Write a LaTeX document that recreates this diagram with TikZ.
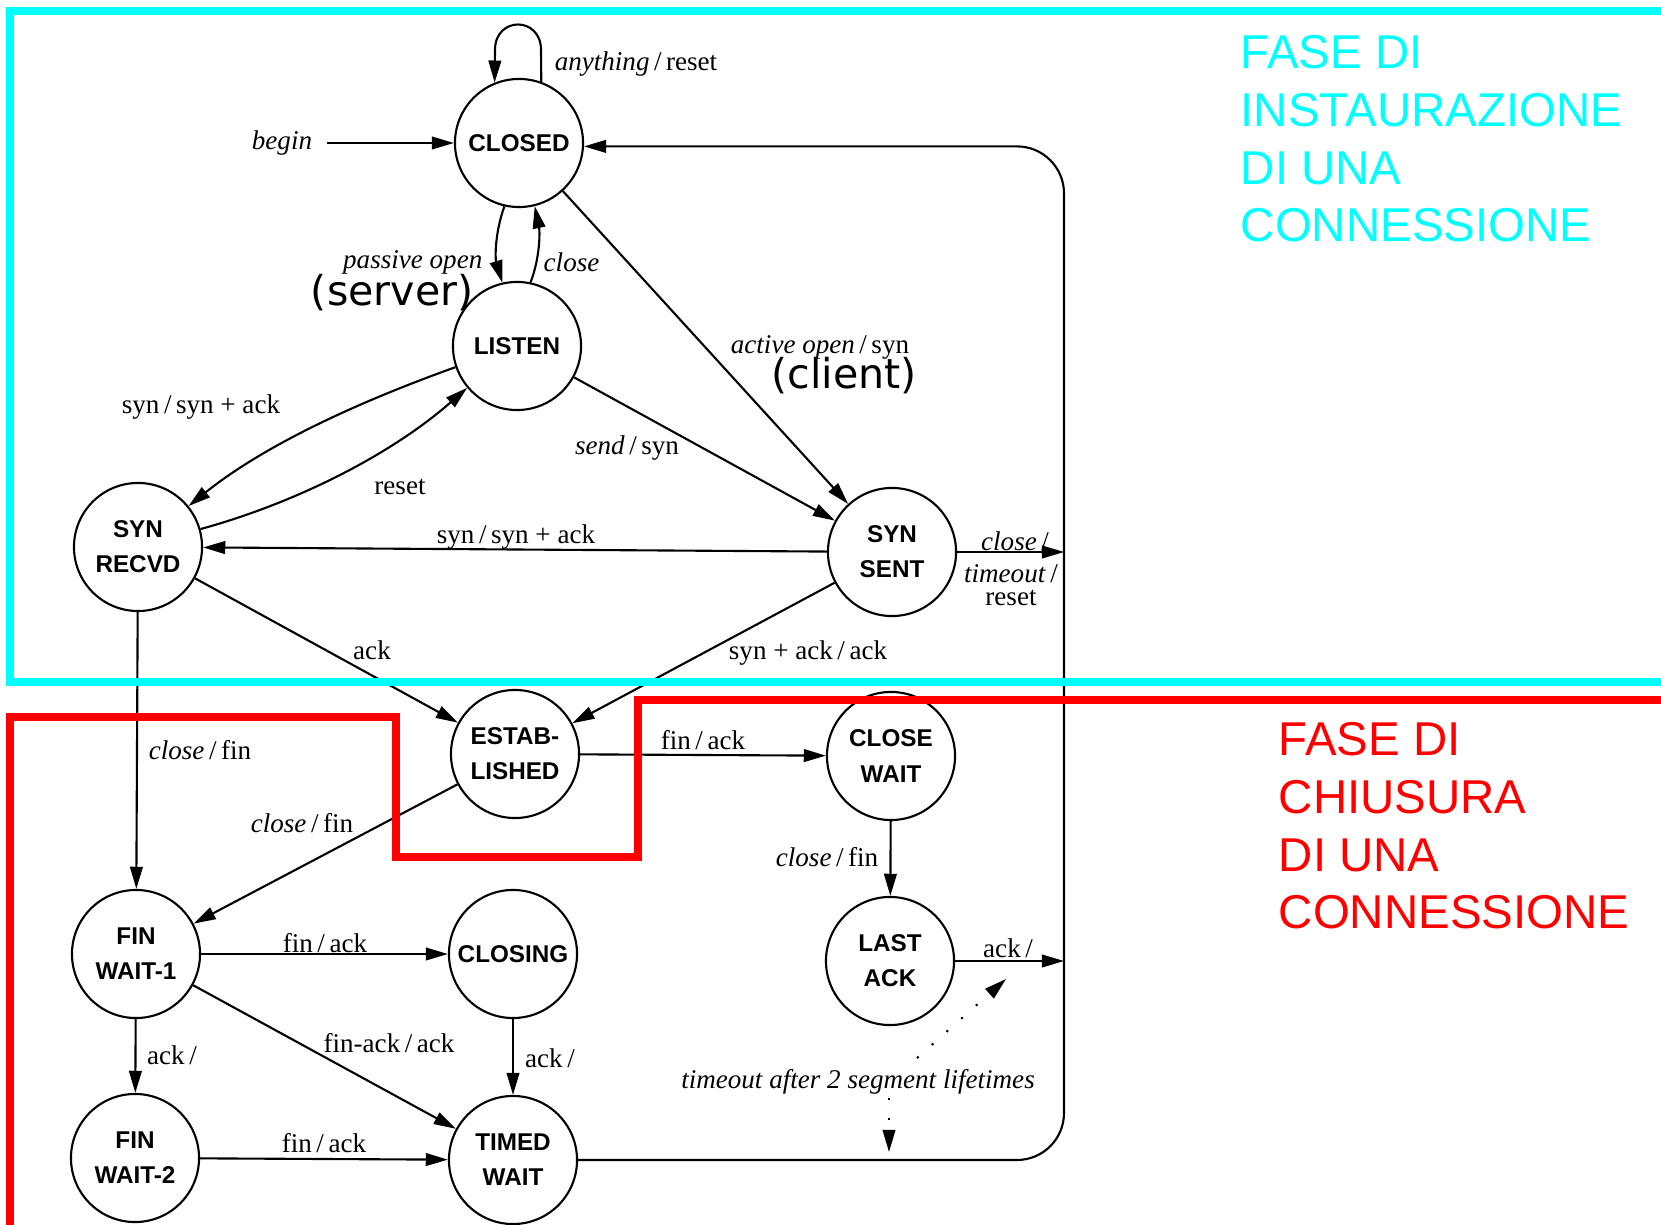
\documentclass[tikz,border=0pt]{standalone}
\usepackage{fontspec}
\setmainfont{Liberation Serif}
\newfontfamily\statefont{Liberation Sans}
\newfontfamily\phasefont{Liberation Sans}
\newfontfamily\rolefont{DejaVu Sans}
\usetikzlibrary{arrows.meta,calc}

\definecolor{phasecyan}{RGB}{0,255,255}
\definecolor{phasered}{RGB}{255,0,0}

\tikzset{
  tcpstate/.style={circle, draw, line width=0.6pt, minimum size=1.28cm, inner sep=0pt, align=center,
    font=\statefont\bfseries\fontsize{6.9}{10}\selectfont},
  lbl/.style={inner sep=0pt, font=\fontsize{7.7}{9.2}\selectfont},
  role/.style={inner sep=0pt, font=\rolefont\fontsize{11.7}{14}\selectfont},
  phase/.style={inner sep=0pt, align=left, font=\phasefont\fontsize{13.5}{16.4}\selectfont},
  trans/.style={-{Triangle[length=6.3pt,width=3.6pt]}, line width=0.6pt},
  timer/.style={trans, dash pattern=on 0.6pt off 5pt},
}

\begin{document}
\begin{tikzpicture}[x=0.01cm, y=-0.01cm]
            \useasboundingbox (0,0) rectangle (1661,1225);

            % States
            \node[tcpstate] (CLOSED) at (519,143) {CLOSED};
            \node[tcpstate] (LISTEN) at (517,346) {LISTEN};
            \node[tcpstate] (SYNRECVD) at (138,547) {SYN\\RECVD};
            \node[tcpstate] (SYNSENT) at (892,552) {SYN\\SENT};
            \node[tcpstate] (ESTAB) at (515,754) {ESTAB-\\LISHED};
            \node[tcpstate] (CLOSEWAIT) at (891,756) {CLOSE\\WAIT};
            \node[tcpstate] (FINWAIT1) at (136,954) {FIN\\WAIT-1};
            \node[tcpstate] (CLOSING) at (513,954) {CLOSING};
            \node[tcpstate] (LASTACK) at (890,961) {LAST\\ACK};
            \node[tcpstate] (FINWAIT2) at (135,1158) {FIN\\WAIT-2};
            \node[tcpstate] (TIMEDWAIT) at (513,1160) {TIMED\\WAIT};

            \coordinate (rline) at (1064,600);

            % Opening
            \node[lbl] (lblbegin) at (282,143) {\textit{begin}};
            \draw[trans, shorten <=4pt] (lblbegin) -- (CLOSED);

            \draw[trans] (CLOSED.70) -- (541,50) .. controls (541,16) and (495,16) .. (495,50) -- (CLOSED.112);
            \node[lbl] (lblanything) at (636,64) {\textit{anything}\,/\,reset};

            \draw[trans] (CLOSED.257) .. controls (495,232) and (495,258) .. (LISTEN.103);
            \draw[trans] (LISTEN.78) .. controls (540,258) and (540,232) .. (CLOSED.284);
            \node[lbl, anchor=east] (lblpassive) at (483,262) {\textit{passive open}};
            \node[role, anchor=east] (lblserver) at (474,293) {(server)};
            \node[lbl, anchor=west] (lblclose) at (543,262) {\textit{close}};

            \draw[trans] (CLOSED) -- (SYNSENT);
            \node[lbl] (lblactive) at (820,347) {\textit{active open}\,/\,syn};
            \node[role] (lblclient) at (844,376) {(client)};

            \draw[trans] (LISTEN.199) .. controls (361,401) and (266,444) .. (SYNRECVD.39);
            \node[lbl] (lblsynlisten) at (201,407) {syn\,/\,syn + ack};
            \draw[trans] (SYNRECVD.16) .. controls (299,502) and (393,453) .. (LISTEN.220);
            \node[lbl] (lblreset) at (400,487) {reset};

            \draw[trans] (LISTEN) -- (SYNSENT);
            \node[lbl] (lblsend) at (627,448) {\textit{send}\,/\,syn};

            \draw[trans] (SYNSENT) -- (SYNRECVD);
            \node[lbl] (lblsynsent) at (516,537) {syn\,/\,syn + ack};

            \draw[trans] (SYNSENT) -- (SYNSENT -| rline);
            \node[lbl] (lblclosesent) at (1015,541) {\textit{close}\,/};
            \node[lbl] (lbltimeoutsent) at (1011,574) {\textit{timeout}\,/};
            \node[lbl] (lblresetsent) at (1011,598) {reset};

            \draw[trans] (SYNRECVD) -- (ESTAB);
            \node[lbl] (lblack) at (372,650) {ack};
            \draw[trans] (SYNSENT) -- (ESTAB);
            \node[lbl] (lblsynack) at (808,653) {syn + ack\,/\,ack};

            % Closing
            \draw[trans] (SYNRECVD) -- (FINWAIT1);
            \node[lbl] (lblclosefinA) at (200,750) {\textit{close}\,/\,fin};
            \draw[trans] (ESTAB) -- (FINWAIT1);
            \node[lbl] (lblclosefinB) at (302,823) {\textit{close}\,/\,fin};
            \draw[trans] (ESTAB) -- (CLOSEWAIT);
            \node[lbl] (lblfinackA) at (703,740) {fin\,/\,ack};
            \draw[trans] (CLOSEWAIT) -- (LASTACK);
            \node[lbl] (lblclosefinC) at (827,857) {\textit{close}\,/\,fin};
            \draw[trans] (LASTACK) -- (LASTACK -| rline);
            \node[lbl] (lblacklast) at (1008,948) {ack\,/};

            \draw[trans] (FINWAIT1) -- (CLOSING);
            \node[lbl] (lblfinackB) at (325,943) {fin\,/\,ack};
            \draw[trans] (FINWAIT1) -- (FINWAIT2);
            \node[lbl] (lblackfin) at (172,1055) {ack\,/};
            \draw[trans] (FINWAIT1) -- (TIMEDWAIT);
            \node[lbl] (lblfinackack) at (389,1043) {fin-ack\,/\,ack};
            \draw[trans] (CLOSING) -- (TIMEDWAIT);
            \node[lbl] (lblackclosing) at (550,1058) {ack\,/};
            \draw[trans] (FINWAIT2) -- (TIMEDWAIT);
            \node[lbl] (lblfinackC) at (324,1143) {fin\,/\,ack};

            \draw[trans, rounded corners=0.47cm] (TIMEDWAIT) -| (rline) |- (CLOSED.-3);

            % Timer
            \node[lbl] (lbltimeout) at (858,1082) {\textit{timeout after 2 segment lifetimes}};
            \coordinate (tmup) at (917,1058);
            \coordinate (tmupend) at (1006,979);
            \coordinate (tmdown) at (889,1098);
            \coordinate (tmdownend) at (889,1152);
            \draw[timer] (tmup) -- (tmupend);
            \draw[timer] (tmdown) -- (tmdownend);

            % Phases
            \draw[phasecyan, line width=2pt] (1700,11) -- (10,11) -- (10,682) -- (1700,682);
            \draw[phasered, line width=2pt] (10,1260) -- (10,717) -- (396,717) -- (396,857) -- (638,857) -- (638,700) -- (1700,700);
            \node[phase, text=phasecyan, anchor=north west] (phaseopen) at (1240,35) {FASE DI\\INSTAURAZIONE\\DI UNA\\CONNESSIONE};
            \node[phase, text=phasered, anchor=north west] (phaseclose) at (1278,722) {FASE DI\\CHIUSURA\\DI UNA\\CONNESSIONE};
\end{tikzpicture}
\end{document}
